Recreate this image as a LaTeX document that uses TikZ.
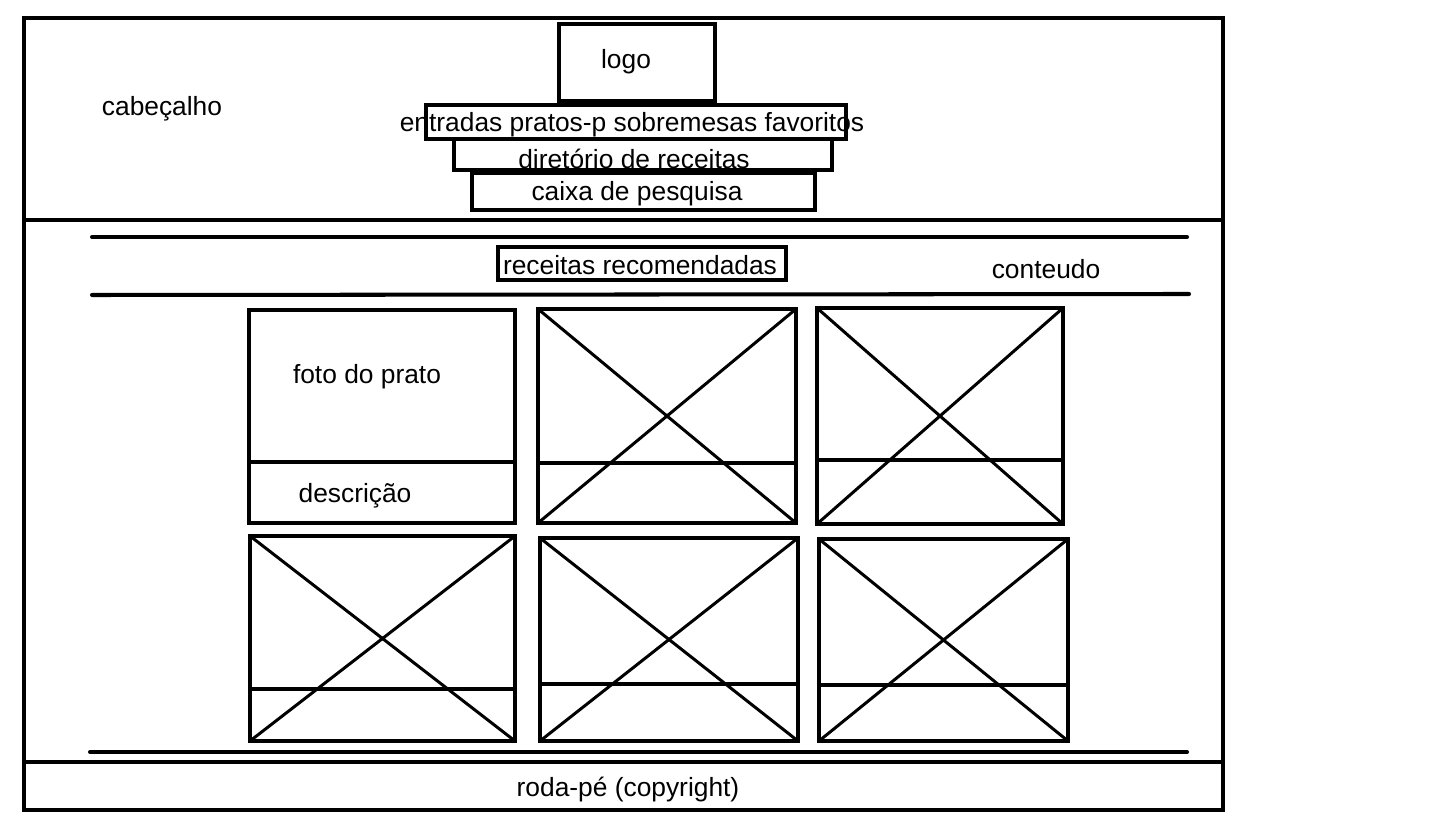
\documentclass[tikz,border=0pt]{standalone}
\usepackage{fontspec}
\setmainfont{Liberation Sans}
\usetikzlibrary{positioning}

\begin{document}
\begin{tikzpicture}[x=0.02cm,y=-0.02cm,line width=2.3pt,
    every node/.style={font=\fontsize{15}{18}\selectfont,inner sep=0pt}]
    \useasboundingbox (0,0) rectangle (1440,820);
    % page frame: header, content, footer
    \draw (24,18) rectangle (1223,810);
    \draw (24,220) -- (1223,220);
    \draw (24,762) -- (1223,762);
    % header
    \node (cabecalho) at (162,109) {cabeçalho};
    \draw (559,24) rectangle (715,101);
    \node (logo) at (626,62) {logo};
    \draw (426,105) rectangle (846,139);
    \node (menu) at (632,125) {entradas pratos-p sobremesas favoritos};
    \draw (454,139) rectangle (832,170);
    \node (diretorio) at (634,159) {diretório de receitas};
    \draw (472,173) rectangle (815,210);
    \node (pesquisa) at (637,194) {caixa de pesquisa};
    % content
    \draw[line cap=round] (92,237) -- (1187,237);
    \draw[line cap=round] (92,295) -- (1189,294);
    \draw (498,247) rectangle (786,280);
    \node (recomendadas) at (640,265) {receitas recomendadas};
    \node (conteudo) at (1046,269) {conteudo};
    % first card
    \draw (249,310) rectangle (515,523);
    \draw (249,462) -- (515,462);
    \node (foto) at (367,377) {foto do prato};
    \node (descricao) at (355,496) {descrição};
    % other cards (placeholders)
    \foreach \xa/\ya/\xb/\yb/\ym in {538/309/796/523/463, 817/308/1063/524/460,
        250/536/515/741/689, 540/538/798/741/684, 819/539/1068/741/685} {
      \draw (\xa,\ya) rectangle (\xb,\yb);
      \draw (\xa,\ym) -- (\xb,\ym);
      \draw[line width=1.7pt] (\xa,\ya) -- (\xb,\yb) (\xa,\yb) -- (\xb,\ya);
    }
    \draw[line cap=round] (90,752) -- (1187,752);
    % footer
    \node (rodape) at (628,790) {roda-pé (copyright)};
\end{tikzpicture}
\end{document}
